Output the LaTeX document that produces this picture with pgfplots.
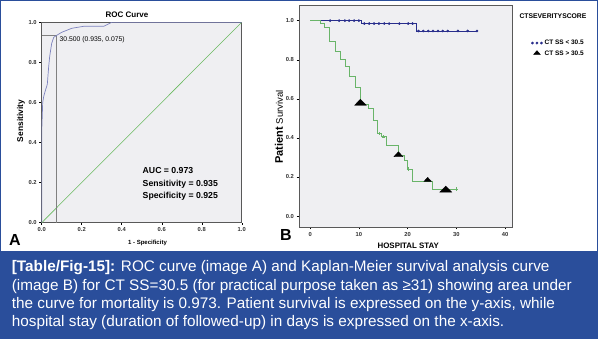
\documentclass[border=0pt]{standalone}
\usepackage{fontspec}
\setmainfont{Liberation Sans}
\usepackage{pgfplots}
\pgfplotsset{compat=1.18}
\definecolor{capblue}{RGB}{42,78,155}
\definecolor{rocblue}{RGB}{125,130,190}
\definecolor{diaggreen}{RGB}{105,185,95}
\definecolor{kmgreen}{RGB}{105,180,105}
\definecolor{kmnavy}{RGB}{40,45,140}
\definecolor{plotbg}{RGB}{239,239,242}
\begin{document}
\begin{tikzpicture}
\begin{scope}[x=1pt,y=1pt]
\useasboundingbox (0,0) rectangle (598,339);
\fill[white] (0,0) rectangle (598,339);
\fill[capblue] (0.8,0.8) rectangle (597.2,88);
\draw[capblue,line width=1.2pt] (0.6,0.6) rectangle (597.4,338.4);
\end{scope}

% ---------------- Panel A: ROC ----------------
\begin{axis}[at={(41.7pt,116.3pt)}, anchor=south west, scale only axis,
  width=200pt, height=200.4pt, xmin=0, xmax=1, ymin=0, ymax=1,
  axis background/.style={fill=plotbg},
  axis line style={gray!70!black, line width=0.5pt},
  xtick={0,0.2,0.4,0.6,0.8,1}, ytick={0,0.2,0.4,0.6,0.8,1},
  xticklabels={0.0,0.2,0.4,0.6,0.8,1.0}, yticklabels={0.0,0.2,0.4,0.6,0.8,1.0},
  tick align=outside, major tick length=2.5pt, xtick pos=bottom, ytick pos=left,
  tick style={black, line width=0.4pt},
  tick label style={font=\bfseries\fontsize{5.8}{7}\selectfont, text=black!80},
  xticklabel style={yshift=1pt}, yticklabel style={xshift=1pt}]
\addplot[diaggreen, line width=0.55pt] coordinates {(0,0) (1,1)};
\addplot[gray, line width=0.6pt] coordinates {(0,0.935) (0.075,0.935) (0.075,0)};
\addplot[rocblue, line width=0.7pt] coordinates {
(0,0) (0,0.45) (0.005,0.6) (0.01,0.63) (0.017,0.655) (0.028,0.69) (0.035,0.78)
(0.04,0.83) (0.05,0.895) (0.06,0.925) (0.075,0.935) (0.1,0.95) (0.15,0.97)
(0.21,0.98) (0.31,0.98) (0.35,1) (1,1)};
\end{axis}

% ---------------- Panel B: Kaplan-Meier ----------------
\begin{axis}[at={(299pt,112pt)}, anchor=south west, scale only axis,
  width=213pt, height=222pt, xmin=-2.3, xmax=41.4, ymin=-0.056, ymax=1.08,
  axis background/.style={fill=plotbg},
  axis line style={gray!70!black, line width=0.5pt},
  xtick={0,10,20,30,40}, ytick={0,0.2,0.4,0.6,0.8,1},
  xticklabels={0,10,20,30,40},
  yticklabels={0.0,0.2,0.4,0.6,0.8,1.0},
  tick align=outside, major tick length=2.5pt, xtick pos=bottom, ytick pos=left,
  tick style={black, line width=0.4pt},
  tick label style={font=\bfseries\fontsize{5.8}{7}\selectfont, text=black!80},
  xticklabel style={yshift=1pt}, yticklabel style={xshift=1pt},
  legend style={at={(1.09,0.852)}, anchor=north west, draw=none, fill=none,
    inner sep=0pt, font=\bfseries\fontsize{6.5}{7}\selectfont, row sep=0.6pt},
  legend cell align=left]
% blue group (CT SS < 30.5)
\addplot[kmnavy, line width=0.6pt, const plot, forget plot] coordinates {
(0,1) (10.5,0.985) (21.8,0.947) (34.2,0.947)};
\addplot[kmnavy, only marks, mark=*, mark size=1.1pt,
  legend image code/.code={\draw[kmnavy, line width=0.5pt, mark=*, mark size=1.1pt, mark repeat=1]
  plot coordinates {(0pt,0pt) (4.5pt,0pt) (9pt,0pt)};}] coordinates {
(4.1,1) (5.95,1) (7.1,1) (8.0,1) (9.0,1) (10.0,1)
(11.1,0.985) (12.1,0.985) (13.1,0.985) (14.1,0.985) (15.2,0.985) (16.2,0.985)
(18.3,0.985) (20.1,0.985) (21.0,0.985)
(22.2,0.947) (23.2,0.947) (24.2,0.947) (25.2,0.947) (26.2,0.947) (27.2,0.947)
(28.2,0.947) (30.3,0.947) (32.3,0.947) (34.2,0.947)};
\addlegendentry{CT SS < 30.5}
% green group (CT SS > 30.5)
\addplot[kmgreen, line width=0.6pt, const plot, forget plot] coordinates {
(0,1) (2.1,0.987) (2.8,0.967) (4.0,0.893) (5.06,0.842) (6.1,0.8) (7.1,0.768)
(8.1,0.713) (9.2,0.659) (10.2,0.57) (12.0,0.551) (12.9,0.49) (13.7,0.423)
(14.6,0.406) (15.7,0.364) (18.05,0.31) (19.4,0.287) (20.0,0.241) (21.0,0.18)
(25.1,0.138) (30.0,0.138)};
\addplot[kmgreen, only marks, mark=+, mark size=1.6pt, forget plot] coordinates {
(14.2,0.423) (15.0,0.406) (20.1,0.241) (30.0,0.138)};
\addplot[black, only marks, mark=triangle*, mark size=4pt, mark options={xscale=1.7},
  legend image code/.code={\draw[black, mark=triangle*, mark size=2.6pt, mark options={xscale=1.5}]
  plot coordinates {(4.5pt,0.5pt)};}] coordinates {(10.3,0.577) (27.8,0.133)};
\addlegendentry{CT SS > 30.5}
\addplot[black, only marks, mark=triangle*, mark size=3.3pt, mark options={xscale=1.6}, forget plot]
  coordinates {(18.1,0.312)};
\addplot[black, only marks, mark=triangle*, mark size=2.7pt, mark options={xscale=1.6}, forget plot]
  coordinates {(24.1,0.184)};
\end{axis}

% ---------------- texts ----------------
\begin{scope}[x=1pt,y=1pt]
\node[font=\bfseries\fontsize{8}{9}\selectfont] at (127,324) {ROC Curve};
\node[anchor=west, font=\fontsize{6.8}{8}\selectfont, inner sep=0pt] at (59.5,299) {30.500 (0.935, 0.075)};
\node[anchor=west, align=left, inner sep=0pt, font=\bfseries\fontsize{8.7}{12.5}\selectfont] at (142.5,154.7)
  {AUC = 0.973\\Sensitivity = 0.935\\Specificity = 0.925};
\node[rotate=90, font=\bfseries\fontsize{8.4}{9}\selectfont] at (21,218) {Sensitivity};
\node[font=\bfseries\fontsize{6}{7}\selectfont] at (147.5,96) {1 - Specificity};
\node[font=\bfseries\fontsize{16}{18}\selectfont] at (15,99) {A};
\node[font=\bfseries\fontsize{16}{18}\selectfont] at (286,104) {B};
\node[font=\bfseries\fontsize{7.9}{9}\selectfont] at (408.3,93) {HOSPITAL STAY};
\node[rotate=90] at (279,212) {{\bfseries\fontsize{11}{12}\selectfont Patient} {\fontsize{9.5}{11}\selectfont Survival}};
\node[font=\bfseries\fontsize{6.8}{8}\selectfont] at (553,323) {CTSEVERITYSCORE};

% ---------------- caption ----------------
\node[anchor=north west, align=left, inner sep=0pt, text=white,
  font=\fontsize{15.3}{18.3}\selectfont] at (11.7,78.5)
{\textbf{[Table/Fig-15]:} ROC curve (image A) and Kaplan-Meier survival analysis curve\\
(image B) for CT SS=30.5 (for practical purpose taken as ≥31) showing area under\\
the curve for mortality is 0.973. Patient survival is expressed on the y-axis, while\\
hospital stay (duration of followed-up) in days is expressed on the x-axis.};
\end{scope}
\end{tikzpicture}
\end{document}
